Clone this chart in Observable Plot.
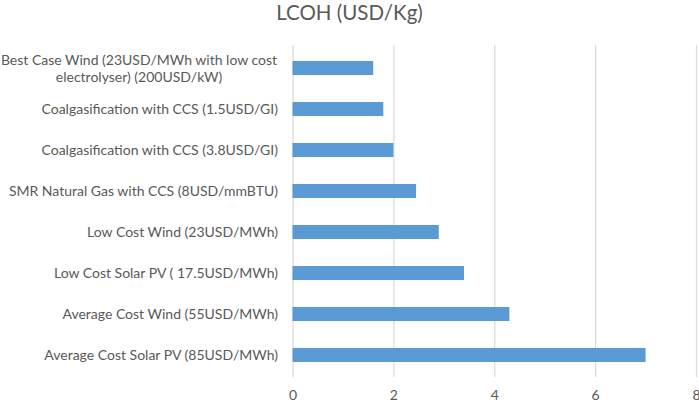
<!DOCTYPE html>
<html>
<head>
<meta charset="utf-8">
<script src="https://cdn.jsdelivr.net/npm/d3@7"></script>
<script src="https://cdn.jsdelivr.net/npm/@observablehq/plot@0.6"></script>
<style>
  html, body { margin: 0; padding: 0; background: #fff; }
  #wrap { position: relative; width: 699px; height: 402px; }
  #title { position: absolute; left: 0; right: 0; top: 0px; text-align: center; line-height: 24px;
           font-family: Lato, "Open Sans", sans-serif; font-size: 20.5px; color: #595959; }
</style>
</head>
<body>
<div id="wrap">
  <div id="title">LCOH (USD/Kg)</div>
  <div id="chart"></div>
</div>
<script>
const categories = [
  "Best Case Wind (23USD/MWh with low cost\nelectrolyser) (200USD/kW)",
  "Coalgasification with CCS (1.5USD/GI)",
  "Coalgasification with CCS (3.8USD/GI)",
  "SMR Natural Gas with CCS (8USD/mmBTU)",
  "Low Cost Wind (23USD/MWh)",
  "Low Cost Solar PV ( 17.5USD/MWh)",
  "Average Cost Wind (55USD/MWh)",
  "Average Cost Solar PV (85USD/MWh)"
];
const values = [1.6, 1.8, 2.0, 2.45, 2.9, 3.4, 4.3, 7.0];
const xTicks = [0, 2, 4, 6, 8];

const data = categories.map((c, i) => ({category: c, value: values[i]}));
const font = "Lato, 'Open Sans', sans-serif";

const chart = Plot.plot({
  width: 699,
  height: 402,
  marginLeft: 292.5,
  marginRight: 3,
  marginTop: 45,
  marginBottom: 25,
  style: {fontFamily: font, fontSize: "14px", color: "#595959", background: "#fff"},
  x: {domain: [0, 8], ticks: xTicks, label: null},
  y: {domain: categories, paddingInner: 0.66, paddingOuter: 0.33, label: null},
  marks: [
    Plot.gridX(xTicks, {stroke: "#d9d9d9", strokeOpacity: 1, strokeWidth: 1.2}),
    Plot.barX(data, {x: "value", y: "category", fill: "#5b9bd5"}),
    Plot.axisX({ticks: xTicks, tickSize: 0, tickPadding: 13, fontSize: 14, fill: "#595959"}),
    Plot.axisY({tickSize: 0, tickPadding: 15, fontSize: 14, fill: "#595959",
      tickFormat: (d) => d === categories[0] ? "" : d}),
    Plot.text([categories[0]], {y: (d) => d, frameAnchor: "left", textAnchor: "middle",
      dx: -154, lineHeight: 1.2, fontSize: 14, fill: "#595959"})
  ]
});
document.getElementById("chart").appendChild(chart);
</script>
</body>
</html>
